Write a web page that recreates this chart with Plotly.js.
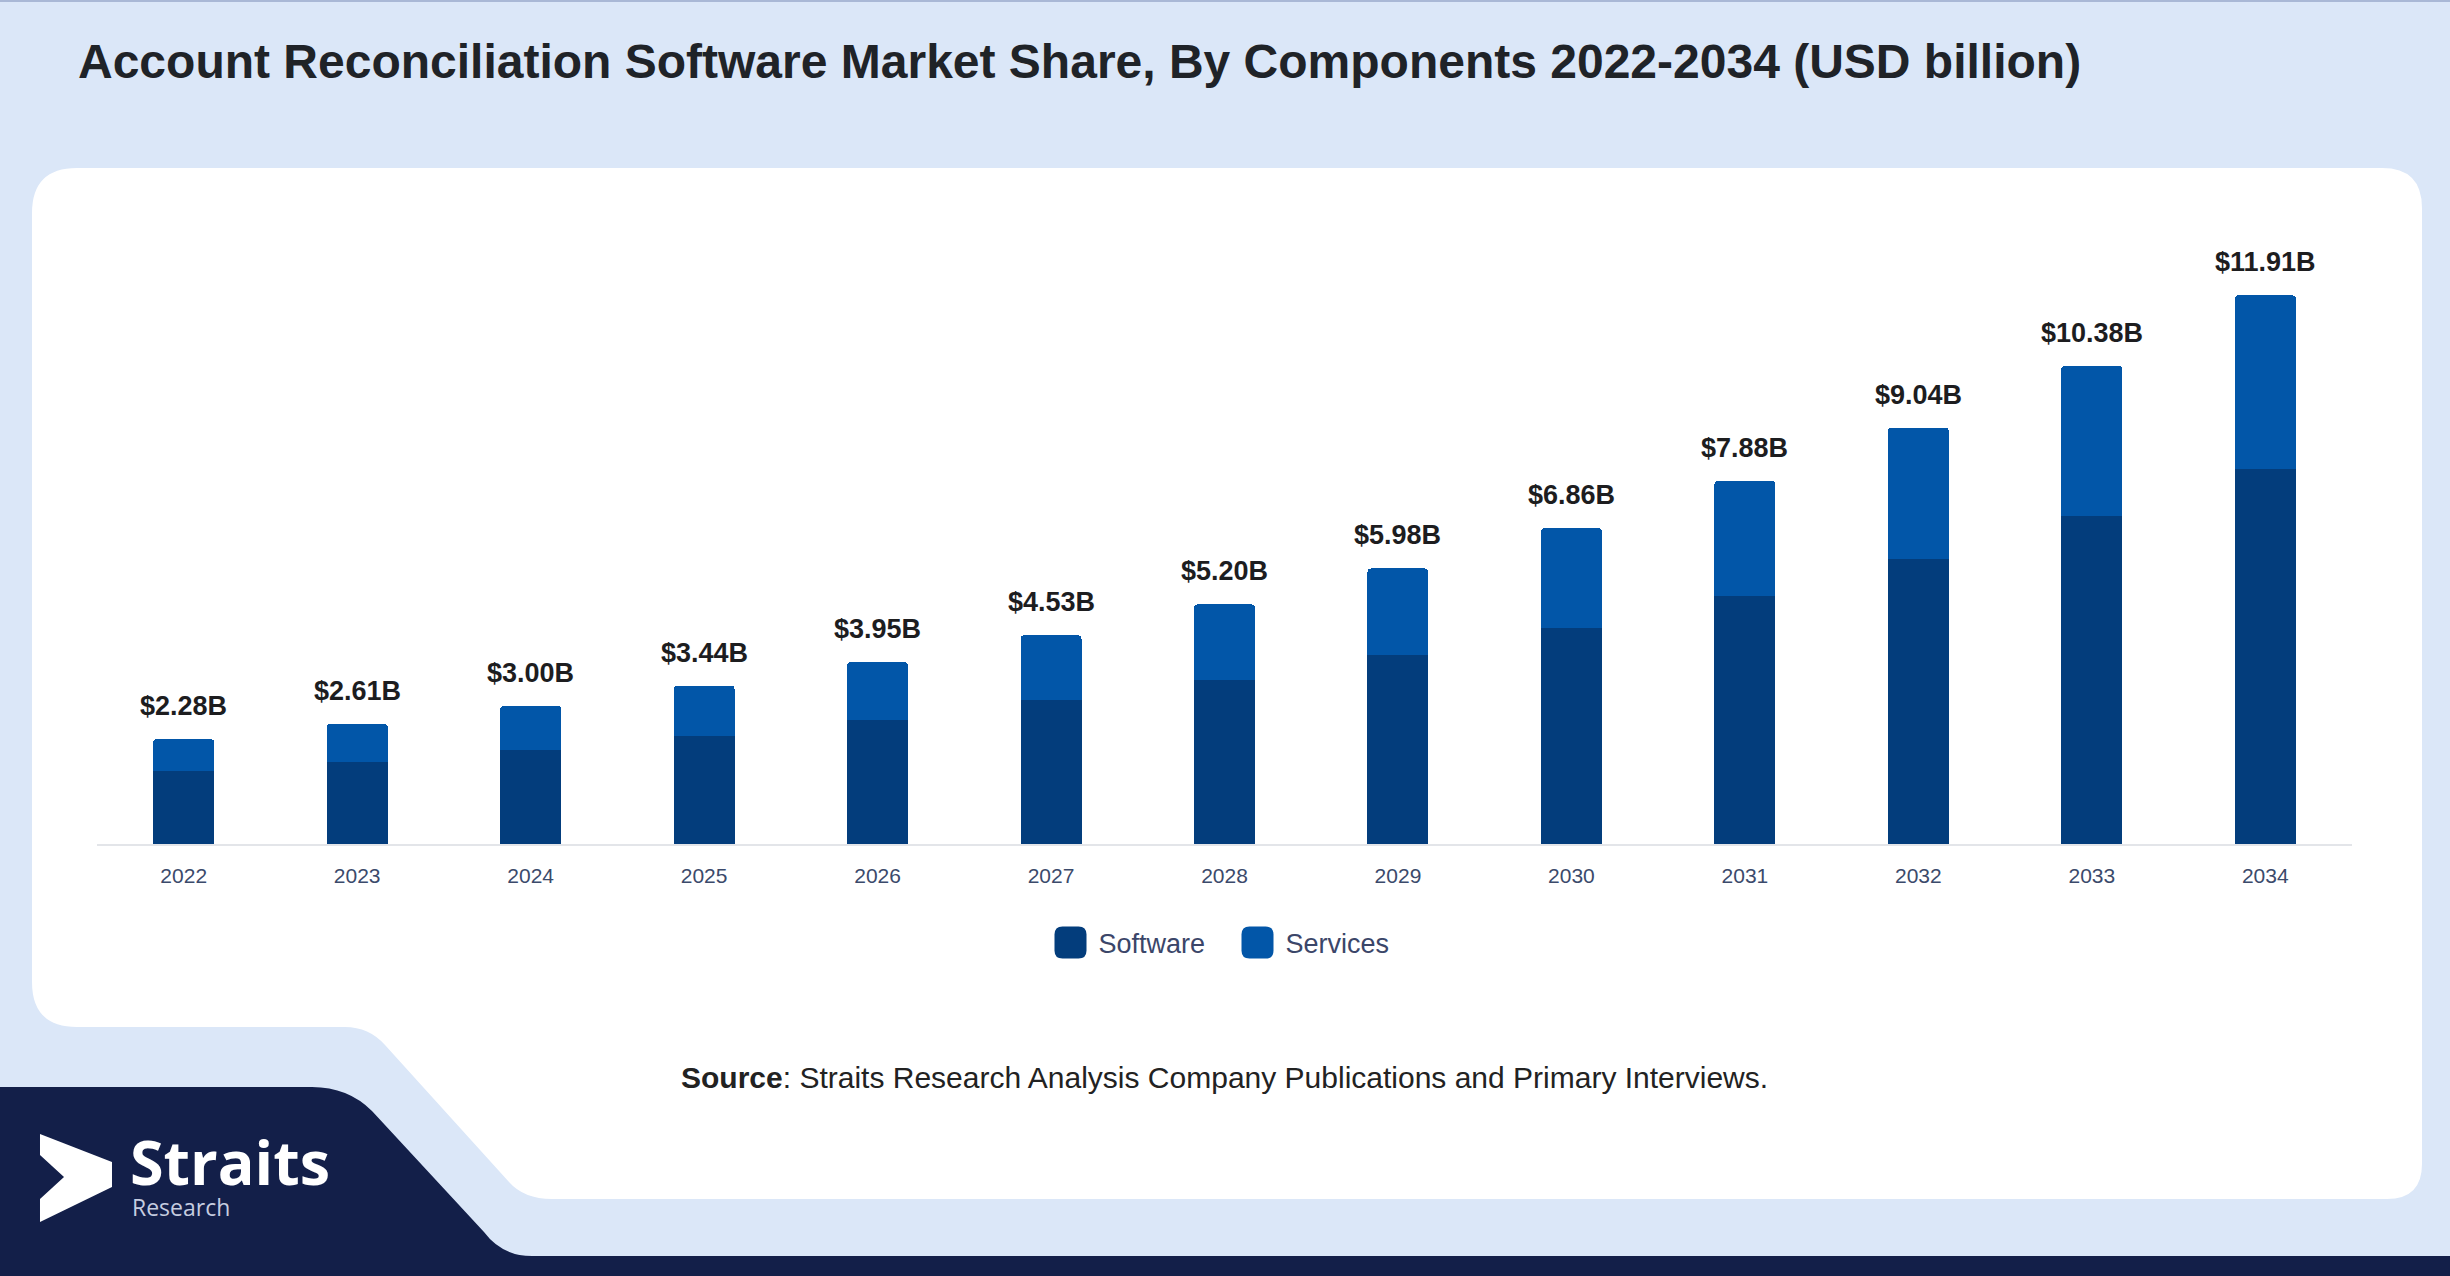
<!DOCTYPE html>
<html>
<head>
<meta charset="utf-8">
<script src="https://cdn.plot.ly/plotly-3.0.1.min.js"></script>
<style>
  html, body { margin: 0; padding: 0; background: #dbe7f8; }
  #chart { width: 2450px; height: 1276px; }
</style>
</head>
<body>
<div id="chart"></div>
<script>
// ---- Data ----
const years = ['2022','2023','2024','2025','2026','2027','2028','2029','2030','2031','2032','2033','2034'];
const software = [1.58, 1.79, 2.04, 2.35, 2.70, 3.12, 3.56, 4.11, 4.68, 5.39, 6.19, 7.11, 8.15];
const services = [0.70, 0.82, 0.96, 1.09, 1.25, 1.41, 1.64, 1.87, 2.18, 2.49, 2.85, 3.27, 3.76];
const totals   = [2.28, 2.61, 3.00, 3.44, 3.95, 4.53, 5.20, 5.98, 6.86, 7.88, 9.04, 10.38, 11.91];
const seriesNames = ['Software', 'Services'];

const W = 2450, H = 1276;
const M = { l: 97, r: 98, t: 199, b: 432 };
const PW = W - M.l - M.r, PH = H - M.t - M.b;
// pixel -> paper coordinate helpers for decorations
const px = x => ((x - M.l) / PW).toFixed(5);
const py = y => ((H - M.b - y) / PH).toFixed(5);
function path(cmds) {
  return cmds.map(c => {
    const L = c[0]; const pts = [];
    for (let i = 1; i < c.length; i += 2) pts.push(px(c[i]) + ',' + py(c[i+1]));
    return L + pts.join(' ');
  }).join(' ') + ' Z';
}

const FONT = 'Liberation Sans, Arial, Helvetica, sans-serif';
const C_SOFT = '#033d7c', C_SERV = '#0256a8', NAVY = '#131f49';

const cardPath = path([
  ['M', 77,168], ['L', 2382,168], ['Q', 2422,168, 2422,208], ['L', 2422,1164],
  ['Q', 2422,1199, 2387,1199], ['L', 552,1199], ['Q', 524,1199, 509,1182],
  ['L', 385,1045], ['Q', 369,1027, 345,1027], ['L', 77,1027],
  ['Q', 32,1027, 32,982], ['L', 32,213], ['Q', 32,168, 77,168]
]);
const navyPath = path([
  ['M', 0,1087], ['L', 312,1087], ['Q', 348,1087, 372,1111], ['L', 484,1232],
  ['Q', 502,1256, 532,1256], ['L', 2450,1256], ['L', 2450,1276], ['L', 0,1276]
]);
const arrowPath = path([
  ['M', 40,1134], ['L', 112,1162], ['L', 112,1187], ['L', 40,1222],
  ['L', 40,1199], ['L', 64,1177], ['L', 40,1155]
]);

const shapes = [
  { type: 'path', xref: 'paper', yref: 'paper', layer: 'below', path: cardPath,
    fillcolor: '#ffffff', line: { width: 0 } },
  { type: 'path', xref: 'paper', yref: 'paper', layer: 'below', path: navyPath,
    fillcolor: NAVY, line: { width: 0 } },
  { type: 'path', xref: 'paper', yref: 'paper', layer: 'below', path: arrowPath,
    fillcolor: '#ffffff', line: { width: 0 } },
  { type: 'line', xref: 'paper', yref: 'paper', layer: 'below',
    x0: px(0), x1: px(2450), y0: py(1), y1: py(1), line: { color: '#a9b8d6', width: 2 } }
];

// total labels above each stacked bar (x as category index)
const labelAnns = years.map((yr, i) => ({
  x: i, y: totals[i], xref: 'x', yref: 'y',
  text: '$' + totals[i].toFixed(2) + 'B', showarrow: false,
  yanchor: 'bottom', yshift: 16,
  font: { family: FONT, size: 27, color: '#1d1d1f', weight: 700 }
}));

const otherAnns = [
  { xref: 'paper', yref: 'paper', x: px(1224), y: py(1078), xanchor: 'center', yanchor: 'middle',
    showarrow: false, text: '<b>Source</b>: Straits Research Analysis Company Publications and Primary Interviews.',
    font: { family: FONT, size: 30, color: '#222222' } },
  { xref: 'paper', yref: 'paper', x: px(128), y: py(1162), xanchor: 'left', yanchor: 'middle',
    showarrow: false, text: '<b>Straits</b>',
    font: { family: 'Open Sans, Liberation Sans, sans-serif', size: 61, color: '#ffffff' } },
  { xref: 'paper', yref: 'paper', x: px(130), y: py(1207), xanchor: 'left', yanchor: 'middle',
    showarrow: false, text: 'Research',
    font: { family: 'Open Sans, Liberation Sans, sans-serif', size: 23, color: '#c6cde0' } }
];

const traces = [
  { type: 'bar', name: seriesNames[0], x: years, y: software,
    marker: { color: C_SOFT }, hoverinfo: 'x+y+name' },
  { type: 'bar', name: seriesNames[1], x: years, y: services,
    marker: { color: C_SERV }, hoverinfo: 'x+y+name' }
];

const layout = {
  width: W, height: H,
  margin: M,
  paper_bgcolor: '#dbe7f8',
  plot_bgcolor: 'rgba(0,0,0,0)',
  barmode: 'stack',
  bargap: 0.648,
  barcornerradius: 4,
  title: {
    text: 'Account Reconciliation Software Market Share, By Components 2022-2034 (USD billion)',
    xref: 'container', yref: 'container', x: 78 / W, xanchor: 'left',
    y: 1 - 61 / H, yanchor: 'middle',
    font: { family: FONT, size: 48, color: '#1f2328', weight: 700 }
  },
  xaxis: {
    type: 'category', range: [-0.5, 12.5], showgrid: false, zeroline: false,
    showline: true, linecolor: '#e3e5e9', linewidth: 2, ticks: '',
    ticklabelstandoff: 12,
    tickfont: { family: FONT, size: 21, color: '#3b4a6b' }, fixedrange: true
  },
  yaxis: { range: [0, 14], visible: false, showgrid: false, zeroline: false, fixedrange: true },
  showlegend: true,
  legend: {
    orientation: 'h', x: 0.5 + 5 / PW, xanchor: 'center', y: py(943), yanchor: 'middle',
    font: { family: FONT, size: 27, color: '#3b4669' },
    itemwidth: 46, entrywidth: 126, entrywidthmode: 'pixels',
    bgcolor: 'rgba(0,0,0,0)', traceorder: 'normal'
  },
  shapes: shapes,
  annotations: labelAnns.concat(otherAnns)
};

function fixLegend() {
  // enlarge legend swatches to rounded squares like the reference
  document.querySelectorAll('#chart .legend g.legendpoints path').forEach(p => {
    p.setAttribute('d', 'M-8,-16H8Q16,-16 16,-8V8Q16,16 8,16H-8Q-16,16 -16,8V-8Q-16,-16 -8,-16Z');
  });
}

Plotly.newPlot('chart', traces, layout, { displayModeBar: false, staticPlot: true }).then(gd => {
  fixLegend();
  if (gd.on) gd.on('plotly_afterplot', fixLegend);
  setTimeout(fixLegend, 0);
  setTimeout(fixLegend, 200);
  setTimeout(fixLegend, 800);
});
</script>
</body>
</html>
